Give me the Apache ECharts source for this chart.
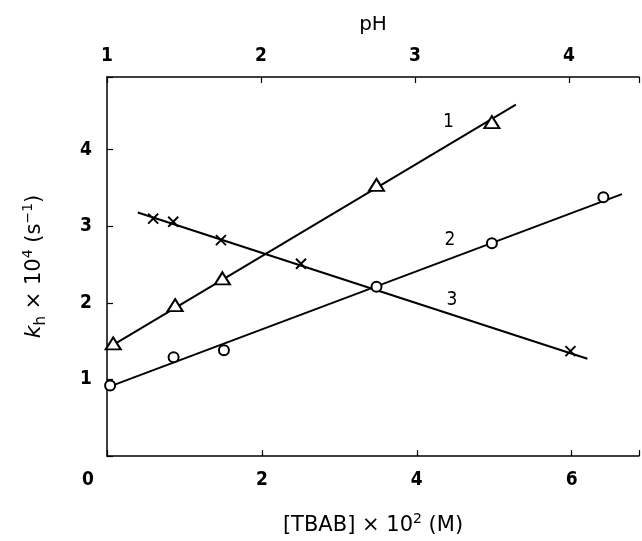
<!DOCTYPE html>
<html>
<head>
<meta charset="utf-8">
<script src="https://cdn.jsdelivr.net/npm/echarts@6/dist/echarts.min.js"></script>
<style>
html, body { margin: 0; padding: 0; background: #fff; }
#chart { width: 642px; height: 541px; }
</style>
</head>
<body>
<div id="chart"></div>
<script>
// curve 1 (triangles) and curve 2 (circles) vs [TBAB] x 10^2
let tbab1 = [0.08, 0.88, 1.49, 3.48, 4.97];
let kh1 = [1.47, 1.97, 2.32, 3.54, 4.36];
let tbab2 = [0.04, 0.86, 1.51, 3.48, 4.97, 6.41];
let kh2 = [0.92, 1.29, 1.38, 2.21, 2.78, 3.38];
// curve 3 (crosses) vs pH
let ph3 = [1.30, 1.43, 1.74, 2.26, 4.01];
let kh3 = [3.10, 3.06, 2.82, 2.51, 1.37];
// fitted straight lines, end points
let fit1 = [[0.08, 1.45], [5.28, 4.59]];
let fit2 = [[0.04, 0.91], [6.65, 3.42]];
let fit3 = [[1.20, 3.18], [4.12, 1.27]];

let tbabTicks = [0, 2, 4, 6];
let phTicks = [1, 2, 3, 4];
let khTicks = [1, 2, 3, 4];

const FONT = "'DejaVu Sans Condensed', 'Liberation Sans Narrow', sans-serif";
const NAMEFONT = "'DejaVu Sans', sans-serif";

function zip(a, b) {
	return a.map((v, i) => [v, b[i]]);
}

let myChart = echarts.init(document.getElementById("chart"));

let lineStyle = { color: "#000", width: 2 };
let tickLabel = { color: "#000", fontFamily: FONT, fontWeight: "bold", fontSize: 19 };
let curveLabel = { show: true, position: "inside", color: "#000", fontFamily: FONT, fontSize: 19 };

let option = {
	animation: false,
	backgroundColor: "#fff",
	grid: { left: 107, right: 2, top: 77, bottom: 79 },
	xAxis: [
		{
			type: "value",
			position: "bottom",
			min: 0,
			max: 6.87,
			interval: 2,
			name: "[TBAB] × 10{sup|2} (M)",
			nameLocation: "middle",
			nameGap: 56,
			nameTextStyle: {
				color: "#000",
				fontFamily: NAMEFONT,
				fontSize: 21,
				rich: { sup: { fontFamily: NAMEFONT, fontSize: 14, padding: [0, 0, 13, 0] } },
			},
			axisLine: { lineStyle: { color: "#000", width: 1.5 } },
			axisTick: { inside: true, length: 6, lineStyle: { color: "#000", width: 1.2 } },
			splitLine: { show: false },
			axisLabel: Object.assign({}, tickLabel, {
				margin: 15,
				formatter: (v) => (tbabTicks.indexOf(v) < 0 ? "" : v === 0 ? "{z|0}" : String(v)),
				rich: { z: Object.assign({}, tickLabel, { padding: [0, 38, 0, 0] }) },
			}),
		},
		{
			type: "value",
			position: "top",
			min: 1,
			max: 4.455,
			interval: 1,
			name: "pH",
			nameLocation: "middle",
			nameGap: 42,
			nameTextStyle: { color: "#000", fontFamily: NAMEFONT, fontSize: 20 },
			axisLine: { lineStyle: { color: "#000", width: 1.5 } },
			axisTick: { inside: true, length: 6, lineStyle: { color: "#000", width: 1.2 } },
			splitLine: { show: false },
			axisLabel: Object.assign({}, tickLabel, {
				margin: 11,
				formatter: (v) => (phTicks.indexOf(v) < 0 ? "" : String(v)),
			}),
		},
	],
	yAxis: {
		type: "value",
		min: 0,
		max: 4.95,
		interval: 1,
		name: "{i|k}{sub|h} × 10{sup|4} (s{sup|−1})",
		nameLocation: "middle",
		nameGap: 58,
		nameTextStyle: {
			color: "#000",
			fontFamily: NAMEFONT,
			fontSize: 21,
			rich: {
				i: { fontFamily: NAMEFONT, fontSize: 22, fontStyle: "italic" },
				sub: { fontFamily: NAMEFONT, fontSize: 15, padding: [14, 0, 0, 0] },
				sup: { fontFamily: NAMEFONT, fontSize: 14, padding: [0, 0, 13, 0] },
			},
		},
		axisLine: { show: true, lineStyle: { color: "#000", width: 1.5 } },
		axisTick: { show: true, inside: true, length: 6, lineStyle: { color: "#000", width: 1.2 } },
		splitLine: { show: false },
		axisLabel: Object.assign({}, tickLabel, {
			margin: 15,
			formatter: (v) => (khTicks.indexOf(v) < 0 ? "" : String(v)),
		}),
	},
	series: [
		{
			type: "line",
			xAxisIndex: 0,
			data: fit1,
			symbol: "none",
			lineStyle: lineStyle,
			z: 1,
			markPoint: {
				symbol: "circle",
				symbolSize: 1,
				itemStyle: { color: "rgba(0,0,0,0)" },
				label: Object.assign({ formatter: "1" }, curveLabel),
				data: [{ coord: [4.41, 4.36] }],
			},
		},
		{
			type: "line",
			xAxisIndex: 0,
			data: fit2,
			symbol: "none",
			lineStyle: lineStyle,
			z: 1,
			markPoint: {
				symbol: "circle",
				symbolSize: 1,
				itemStyle: { color: "rgba(0,0,0,0)" },
				label: Object.assign({ formatter: "2" }, curveLabel),
				data: [{ coord: [4.43, 2.82] }],
			},
		},
		{
			type: "line",
			xAxisIndex: 1,
			data: fit3,
			symbol: "none",
			lineStyle: lineStyle,
			z: 1,
			markPoint: {
				symbol: "circle",
				symbolSize: 1,
				itemStyle: { color: "rgba(0,0,0,0)" },
				label: Object.assign({ formatter: "3" }, curveLabel),
				data: [{ coord: [3.24, 2.04] }],
			},
		},
		{
			type: "scatter",
			xAxisIndex: 0,
			data: zip(tbab1, kh1),
			symbol: "triangle",
			symbolSize: [15, 12],
			itemStyle: { color: "#fff", borderColor: "#000", borderWidth: 2, opacity: 1 },
			z: 3,
		},
		{
			type: "scatter",
			xAxisIndex: 0,
			data: zip(tbab2, kh2),
			symbol: "circle",
			symbolSize: 10,
			itemStyle: { color: "#fff", borderColor: "#000", borderWidth: 2, opacity: 1 },
			z: 3,
		},
		{
			type: "scatter",
			xAxisIndex: 1,
			data: zip(ph3, kh3),
			symbol: "path://M0,0L10,10M10,0L0,10",
			symbolSize: 10,
			itemStyle: { color: "none", borderColor: "#000", borderWidth: 2, opacity: 1 },
			z: 3,
		},
	],
};

myChart.setOption(option);
</script>
</body>
</html>
